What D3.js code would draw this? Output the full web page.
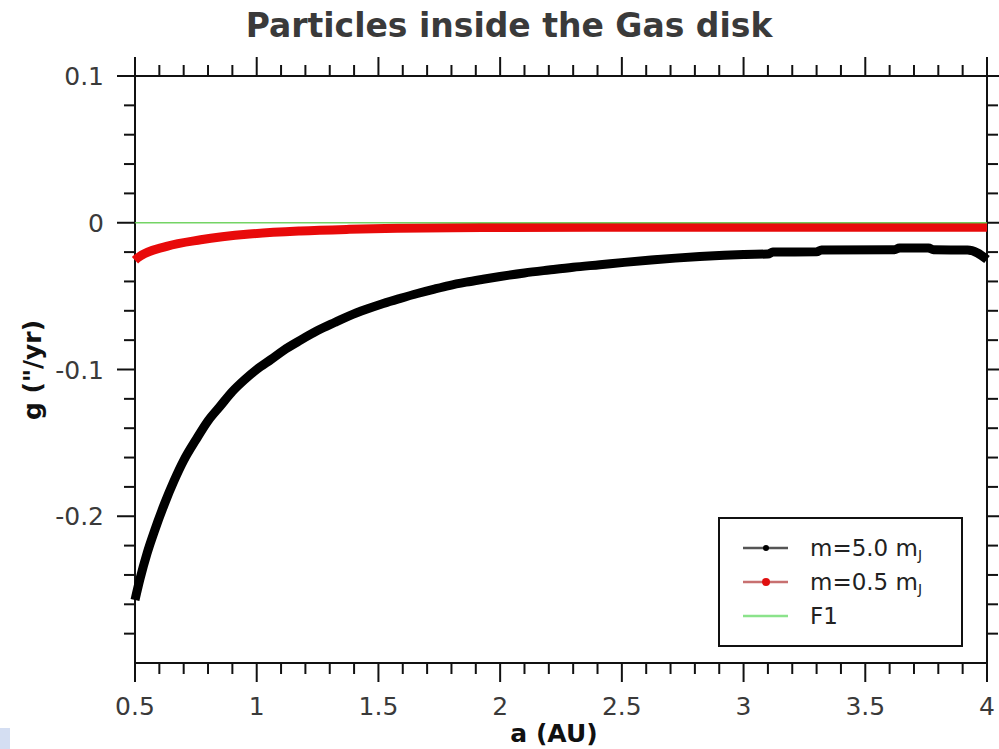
<!DOCTYPE html>
<html>
<head>
<meta charset="utf-8">
<script src="https://cdn.jsdelivr.net/npm/d3@7"></script>
<style>
  html, body { margin: 0; padding: 0; background: #fff; }
  svg { display: block; font-family: "DejaVu Sans", sans-serif; }
</style>
</head>
<body>
<svg id="chart" width="999" height="749"></svg>
<script>
// Precession frequency g versus semi-major axis a
const heavyA = [0.50,0.52,0.55,0.58,0.62,0.66,0.70,0.75,0.80,0.85,0.90,0.95,1.00,1.06,1.11,1.18,1.25,1.32,1.38,1.45,1.52,1.59,1.66,1.73,1.79,1.86,1.93,2.00,2.10,2.20,2.30,2.41,2.51,2.62,2.72,2.82,2.92,3.00,3.10,3.12,3.30,3.32,3.62,3.64,3.76,3.78,3.92,3.96,4.00];
const heavyG = [-0.257,-0.243,-0.225,-0.210,-0.192,-0.176,-0.162,-0.148,-0.135,-0.125,-0.115,-0.107,-0.100,-0.093,-0.0870,-0.0800,-0.0735,-0.0680,-0.0635,-0.0590,-0.0550,-0.0515,-0.0482,-0.0452,-0.0428,-0.0405,-0.0385,-0.0366,-0.0342,-0.0322,-0.0303,-0.0286,-0.0270,-0.0254,-0.0241,-0.0230,-0.0221,-0.0216,-0.0213,-0.0200,-0.0198,-0.0185,-0.0184,-0.0172,-0.0172,-0.0184,-0.0186,-0.0205,-0.0250];

const lightA = [0.50,0.51,0.63,0.77,0.97,1.18,1.38,1.58,1.80,2.00,2.40,2.80,3.20,3.60,4.00];
const lightG = [-0.0255,-0.0240,-0.0161,-0.0116,-0.0077,-0.0056,-0.0045,-0.0038,-0.0034,-0.0032,-0.0031,-0.0030,-0.0030,-0.0030,-0.0030];

const f1A = [0.5, 4.0];
const f1G = [0, 0];

const xMajor = [0.5,1,1.5,2,2.5,3,3.5,4];
const xLabels = ["0.5","1","1.5","2","2.5","3","3.5","4"];
const yMajor = [0.1,0,-0.1,-0.2];
const yLabels = ["0.1","0","-0.1","-0.2"];

const legendLabels = ["m=5.0 m", "m=0.5 m", "F1"];

const svg = d3.select("#chart");
const L = 135, R = 987, T = 76, B = 663;

const x = d3.scaleLinear().domain([0.5, 4]).range([L, R]);
const y = d3.scaleLinear().domain([-0.3, 0.1]).range([B, T]);

const textCol = "#3a3a3a";

// faint tinted corner at bottom-left
svg.append("rect").attr("x", 0).attr("y", 728).attr("width", 10).attr("height", 21)
  .attr("fill", "#c9d6ef").attr("opacity", 0.8);

// Title
svg.append("text").attr("x", 509).attr("y", 37).attr("text-anchor", "middle")
  .attr("font-size", 33).attr("font-weight", "bold").attr("fill", "#3a3a3a")
  .text("Particles inside the Gas disk");

// Ticks (minor every 0.1 in x, 0.02 in y)
const xMinor = d3.range(5, 41).map(d => d / 10).filter(d => !xMajor.some(m => Math.abs(m - d) < 1e-9));
const yMinor = d3.range(-15, 6).map(d => d / 50).filter(d => !yMajor.some(m => Math.abs(m - d) < 1e-9) && Math.abs(d + 0.3) > 1e-9 && d < 0.1);

const axisG = svg.append("g").attr("stroke", "#111").attr("stroke-width", 2);

// bottom and top
axisG.selectAll(".xb").data(xMajor).join("line")
  .attr("x1", d => x(d)).attr("x2", d => x(d)).attr("y1", B).attr("y2", B + 19);
axisG.selectAll(".xbm").data(xMinor).join("line")
  .attr("x1", d => x(d)).attr("x2", d => x(d)).attr("y1", B).attr("y2", B + 11);
axisG.selectAll(".xt").data(xMajor).join("line")
  .attr("x1", d => x(d)).attr("x2", d => x(d)).attr("y1", T).attr("y2", T - 19);
axisG.selectAll(".xtm").data(xMinor).join("line")
  .attr("x1", d => x(d)).attr("x2", d => x(d)).attr("y1", T).attr("y2", T - 11);
// left and right
axisG.selectAll(".yl").data(yMajor).join("line")
  .attr("x1", L).attr("x2", L - 18).attr("y1", d => y(d)).attr("y2", d => y(d));
axisG.selectAll(".ylm").data(yMinor).join("line")
  .attr("x1", L).attr("x2", L - 11).attr("y1", d => y(d)).attr("y2", d => y(d));
axisG.selectAll(".yr").data(yMajor).join("line")
  .attr("x1", R).attr("x2", R + 18).attr("y1", d => y(d)).attr("y2", d => y(d));
axisG.selectAll(".yrm").data(yMinor).join("line")
  .attr("x1", R).attr("x2", R + 11).attr("y1", d => y(d)).attr("y2", d => y(d));

// frame
svg.append("rect").attr("x", L).attr("y", T).attr("width", R - L).attr("height", B - T)
  .attr("fill", "none").attr("stroke", "#111").attr("stroke-width", 2);

// tick labels
svg.selectAll(".xl").data(xMajor).join("text")
  .attr("x", d => x(d)).attr("y", 715).attr("text-anchor", "middle")
  .attr("font-size", 25).attr("fill", textCol).text((d, i) => xLabels[i]);
svg.selectAll(".ylab").data(yMajor).join("text")
  .attr("x", 104).attr("y", d => y(d) + 9).attr("text-anchor", "end")
  .attr("font-size", 25).attr("fill", textCol).text((d, i) => yLabels[i]);

// axis titles
svg.append("text").attr("x", 554).attr("y", 742).attr("text-anchor", "middle")
  .attr("font-size", 25).attr("font-weight", "bold").attr("fill", "#111").text("a (AU)");
svg.append("text").attr("transform", "translate(41,370) rotate(-90)").attr("text-anchor", "middle")
  .attr("font-size", 25).attr("font-weight", "bold").attr("fill", "#111").text("g (\"/yr)");

// series
const line = d3.line().x(d => x(d[0])).y(d => y(d[1])).curve(d3.curveMonotoneX);
const zip = (a, g) => a.map((v, i) => [v, g[i]]);

svg.append("path").datum(zip(heavyA, heavyG)).attr("d", line)
  .attr("fill", "none").attr("stroke", "#000").attr("stroke-width", 9).attr("stroke-linejoin", "round");
svg.append("path").datum(zip(lightA, lightG)).attr("d", line)
  .attr("fill", "none").attr("stroke", "#e80a0a").attr("stroke-width", 9).attr("stroke-linejoin", "round");
svg.append("path").datum(zip(f1A, f1G)).attr("d", line)
  .attr("fill", "none").attr("stroke", "#5ccc4a").attr("stroke-width", 1.6).attr("opacity", 0.85);

// legend
const lg = svg.append("g");
lg.append("rect").attr("x", 719).attr("y", 518).attr("width", 243).attr("height", 128)
  .attr("fill", "#fff").attr("stroke", "#111").attr("stroke-width", 2);
const legStroke = ["#555", "#c87070", "#8be38b"];
const legDot = ["#000", "#e01010", null];
const legR = [3, 4, 0];
legendLabels.forEach((lab, i) => {
  const yy = 548 + i * 34;
  lg.append("line").attr("x1", 743).attr("x2", 788).attr("y1", yy).attr("y2", yy)
    .attr("stroke", legStroke[i]).attr("stroke-width", 2.5);
  if (legDot[i]) lg.append("circle").attr("cx", 766).attr("cy", yy).attr("r", legR[i]).attr("fill", legDot[i]);
  const t = lg.append("text").attr("x", 810).attr("y", yy + 8).attr("font-size", 23).attr("fill", "#222");
  t.append("tspan").text(lab);
  if (i < 2) t.append("tspan").attr("font-size", 14).attr("dy", 4).text("J");
});
</script>
</body>
</html>
